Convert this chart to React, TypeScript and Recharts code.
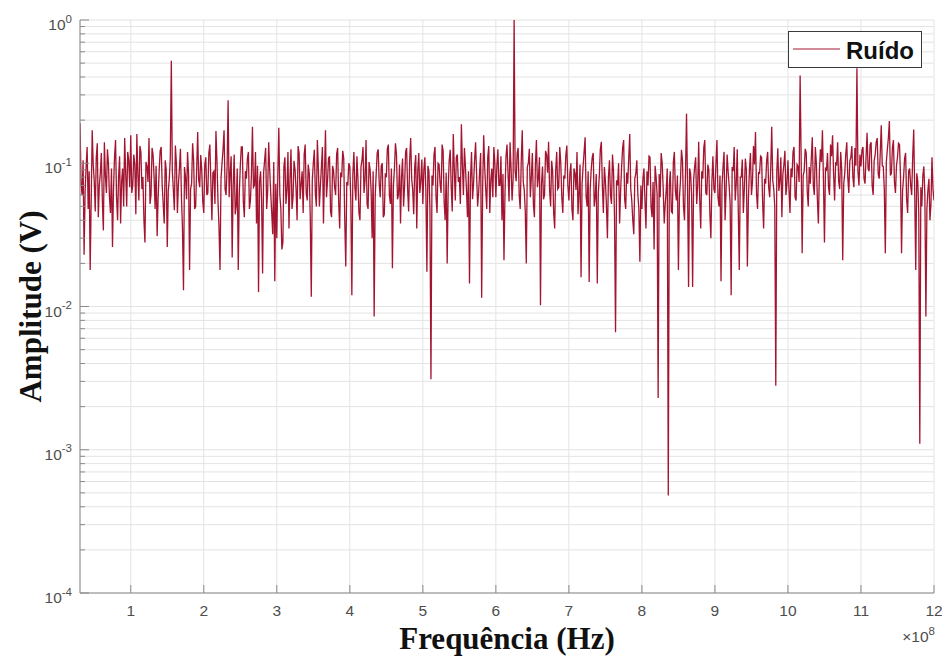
import React from 'react';
import {
  LineChart,
  Line,
  XAxis,
  YAxis,
  CartesianGrid,
  Legend,
} from 'recharts';

// Amplitudes in mV, one spectral bin every 1/72 x 10^8 Hz.
// band0 ends just before 1 x 10^8 Hz, bandN covers N .. N+1 x 10^8 Hz.
const band0 = [
  190, 72, 60, 105, 23, 64, 95, 130, 48, 88, 18, 55, 170, 98, 75, 46, 110, 138, 42, 70,
  85, 118, 55, 34, 140, 82, 62, 125, 100, 58, 45, 92, 26, 66, 110, 145, 58, 40, 80, 112,
  38, 75, 92, 50, 150, 86, 50, 120, 105, 68,
];
const band1 = [
  157, 62, 70, 115, 98, 44, 160, 85, 55, 132, 120, 66, 80, 40, 28, 102, 95, 74, 150, 52,
  60, 128, 115, 80, 48, 96, 31, 58, 88, 122, 130, 70, 52, 38, 105, 90, 26, 64, 78, 110,
  520, 88, 65, 47, 133, 100, 45, 72, 92, 126, 58, 35, 13, 94, 80, 56, 120, 84, 18, 66,
  72, 138, 105, 48, 50, 92, 165, 76, 68, 114, 90, 54,
];
const band2 = [
  45, 98, 110, 60, 62, 118, 135, 74, 40, 86, 88, 52, 168, 104, 55, 36, 18, 78, 100, 125,
  170, 66, 60, 95, 275, 58, 85, 112, 22, 70, 115, 44, 50, 92, 18, 61, 95, 130, 130, 54,
  42, 88, 78, 108, 120, 48, 55, 83, 180, 68, 70, 120, 38, 96, 12.6, 74, 88, 55, 17, 86,
  105, 128, 48, 64, 140, 90, 62, 45, 32, 102, 15, 72,
];
const band3 = [
  30, 82, 177, 60, 48, 25, 28, 95, 110, 52, 65, 120, 35, 78, 125, 48, 58, 104, 90, 66,
  40, 132, 118, 56, 72, 88, 45, 115, 135, 62, 55, 98, 85, 42, 11.7, 76, 100, 124, 62, 50,
  145, 92, 50, 70, 95, 130, 38, 84, 170, 58, 75, 108, 112, 46, 42, 96, 88, 68, 60, 116,
  128, 54, 35, 86, 80, 122, 108, 40, 19, 74, 70, 100,
];
const band4 = [
  95, 55, 12, 84, 120, 68, 55, 112, 78, 45, 40, 94, 105, 130, 62, 76, 145, 52, 48, 102,
  90, 64, 30, 88, 8.5, 58, 85, 118, 125, 72, 58, 96, 100, 42, 44, 85, 80, 126, 135, 60,
  52, 92, 18.5, 70, 92, 138, 115, 56, 60, 98, 38, 80, 108, 50, 70, 120, 128, 66, 46, 104,
  150, 78, 65, 44, 95, 114, 35, 88, 118, 62, 75, 106,
];
const band5 = [
  52, 90, 110, 64, 17.5, 96, 88, 48, 3.1, 82, 70, 115, 130, 58, 45, 100, 98, 72, 62, 135,
  122, 54, 40, 86, 20, 68, 105, 124, 68, 46, 160, 92, 55, 110, 115, 74, 80, 52, 187, 98,
  60, 128, 95, 66, 42, 88, 14.5, 78, 120, 56, 72, 104, 140, 84, 50, 62, 88, 118, 11.5, 70,
  157, 94, 65, 48, 110, 132, 45, 76, 92, 58, 130, 100,
];
const band6 = [
  58, 96, 125, 70, 70, 112, 40, 84, 21, 62, 112, 135, 85, 54, 140, 92, 55, 78, 1000, 88,
  75, 118, 128, 60, 48, 102, 170, 74, 65, 46, 20, 94, 100, 126, 58, 80, 118, 52, 42, 98,
  145, 68, 80, 110, 10.2, 72, 95, 56, 60, 122, 115, 86, 141, 64, 50, 104, 88, 45, 35, 90,
  120, 66, 68, 130, 100, 58, 45, 82, 78, 114, 133, 70,
];
const band7 = [
  55, 85, 100, 48, 40, 92, 85, 65, 120, 44, 62, 98, 16, 72, 95, 120, 152, 58, 50, 88,
  14.8, 66, 90, 110, 118, 50, 58, 84, 14.5, 62, 82, 125, 141, 70, 45, 94, 75, 52, 30, 80,
  105, 60, 52, 115, 88, 42, 6.6, 76, 70, 100, 38, 64, 95, 128, 145, 56, 48, 86, 72, 108,
  160, 66, 55, 40, 32, 78, 85, 105, 60, 48, 20.5, 70,
];
const band8 = [
  48, 78, 92, 55, 35, 88, 70, 112, 110, 50, 42, 74, 25, 96, 80, 60, 2.3, 84, 58, 118,
  100, 66, 38, 52, 65, 92, 0.48, 70, 88, 46, 45, 102, 120, 64, 55, 82, 18, 58, 75, 124,
  105, 50, 40, 86, 222, 68, 13.7, 92, 85, 60, 13.7, 76, 95, 110, 52, 70, 141, 56, 35, 88,
  78, 128, 145, 62, 60, 98, 90, 45, 30, 74, 112, 66,
];
const band9 = [
  62, 100, 145, 58, 50, 82, 15, 70, 95, 120, 40, 64, 115, 88, 70, 52, 12, 94, 88, 130,
  55, 72, 125, 48, 18, 80, 80, 106, 45, 66, 108, 90, 19, 56, 90, 118, 60, 74, 132, 98,
  165, 62, 48, 86, 85, 112, 110, 54, 35, 78, 72, 104, 120, 68, 58, 92, 180, 76, 66, 50,
  2.8, 88, 127, 64, 75, 110, 42, 84, 98, 122, 60, 72,
];
const band10 = [
  105, 66, 45, 92, 80, 120, 130, 58, 55, 98, 95, 74, 410, 110, 23.5, 82, 88, 126, 118, 64,
  50, 94, 72, 108, 152, 70, 60, 130, 100, 56, 38, 88, 125, 102, 170, 76, 28, 92, 90, 118,
  68, 60, 135, 112, 157, 84, 55, 100, 98, 140, 75, 66, 120, 90, 21, 72, 85, 116, 140, 80,
  62, 104, 110, 132, 80, 68, 128, 96, 460, 88, 70, 115,
];
const band11 = [
  95, 124, 130, 78, 72, 110, 163, 92, 88, 135, 140, 70, 60, 104, 115, 140, 150, 84, 78, 118,
  184, 96, 95, 66, 23.5, 102, 125, 150, 197, 82, 85, 128, 145, 74, 62, 96, 110, 138, 135, 80,
  23.5, 64, 80, 108, 118, 56, 45, 88, 92, 70, 60, 112, 172, 62, 18, 85, 75, 44, 1.1, 68,
  50, 82, 95, 60, 8.5, 48, 65, 78, 40, 52, 110, 66, 55,
];

const bands = [band0, band1, band2, band3, band4, band5, band6, band7, band8, band9, band10, band11];
const BIN = 1 / 72;

const xTicks = [1, 2, 3, 4, 5, 6, 7, 8, 9, 10, 11, 12];
const decades = [1e-4, 1e-3, 1e-2, 1e-1, 1];
const minorSteps = [2, 3, 4, 5, 6, 7, 8, 9];

const yTicks = [
  ...decades,
  ...decades.slice(0, -1).flatMap((d) => minorSteps.map((m) => m * d)),
].sort((a, b) => a - b);

const data = bands.flatMap((vals, b) => {
  const start = b === 0 ? 1 - vals.length * BIN : b;
  return vals.map((mv, i) => ({ f: start + i * BIN, amp: mv / 1000 }));
});

const lineColor = '#A2142F';
const axisColor = '#8a8a8a';
const gridColor = '#e3e3e3';
const tickText = '#4d4d4d';
const sans = '"Liberation Sans", Arial, sans-serif';
const serif = '"Liberation Serif", "Times New Roman", serif';

const isDecade = (v: number) => Math.abs(Math.log10(v) - Math.round(Math.log10(v))) < 1e-6;

const LeftTick = ({ x, y, payload }: any) => {
  const major = isDecade(payload.value);
  return (
    <g>
      <line x1={x} x2={x + (major ? 9 : 5)} y1={y} y2={y} stroke={axisColor} />
      {major && (
        <text x={x - 8} y={y + 10} textAnchor="end" fontSize={15.5} fill={tickText} fontFamily={sans}>
          10
          <tspan dy={-7.5} fontSize={11.5}>
            {Math.round(Math.log10(payload.value))}
          </tspan>
        </text>
      )}
    </g>
  );
};

const RightTick = ({ x, y, payload }: any) => {
  const major = isDecade(payload.value);
  return <line x1={x} x2={x - (major ? 9 : 5)} y1={y} y2={y} stroke={axisColor} />;
};

const BottomTick = ({ x, y, payload }: any) => (
  <g>
    <line x1={x} x2={x} y1={y} y2={y - 8} stroke={axisColor} />
    <text x={x} y={y + 23} textAnchor="middle" fontSize={15.5} fill={tickText} fontFamily={sans}>
      {payload.value}
    </text>
  </g>
);

const TopTick = ({ x, y }: any) => <line x1={x} x2={x} y1={y} y2={y + 8} stroke={axisColor} />;

const XTitle = ({ viewBox }: any) => (
  <g>
    <text
      x={viewBox.x + viewBox.width / 2}
      y={viewBox.y + 56}
      textAnchor="middle"
      fontSize={31}
      fontWeight={700}
      fontFamily={serif}
      fill="#111"
    >
      Frequência (Hz)
    </text>
    <text
      x={viewBox.x + viewBox.width + 1}
      y={viewBox.y + 49}
      textAnchor="end"
      fontSize={15.5}
      fill={tickText}
      fontFamily={sans}
    >
      ×10
      <tspan dy={-7.5} fontSize={11.5}>
        8
      </tspan>
    </text>
  </g>
);

const YTitle = ({ viewBox }: any) => {
  const cx = 41;
  const cy = viewBox.y + viewBox.height / 2;
  return (
    <text
      x={cx}
      y={cy}
      transform={`rotate(-90 ${cx} ${cy})`}
      textAnchor="middle"
      fontSize={31}
      fontWeight={700}
      fontFamily={serif}
      fill="#111"
    >
      Amplitude (V)
    </text>
  );
};

const NoiseLegend = ({ payload }: any) => {
  const item = payload && payload[0];
  return (
    <svg width={134} height={37}>
      <rect x={0.5} y={0.5} width={133} height={36} fill="#fff" stroke="#3a3a3a" />
      <line x1={5} x2={52} y1={18} y2={18} stroke={item ? item.color : lineColor} strokeWidth={1} />
      <text x={58} y={28} fontSize={24} fontWeight={700} fontFamily={sans} fill="#111">
        {item ? item.value : 'Ruído'}
      </text>
    </svg>
  );
};

export default function App() {
  return (
    <div style={{ position: 'absolute', left: 0, top: 0, width: 946, height: 657, background: '#fff' }}>
      <LineChart width={946} height={657} data={data} margin={{ top: 20, right: 12, bottom: 34, left: 0 }}>
        <CartesianGrid stroke={gridColor} strokeWidth={1} />
        <XAxis
          dataKey="f"
          type="number"
          domain={[0.305, 12]}
          ticks={xTicks}
          interval={0}
          allowDataOverflow
          height={30}
          tickSize={0}
          tickMargin={0}
          tick={<BottomTick />}
          tickLine={false}
          axisLine={{ stroke: axisColor }}
          label={(props: any) => <XTitle {...props} />}
        />
        <XAxis
          xAxisId="top"
          orientation="top"
          dataKey="f"
          type="number"
          domain={[0.305, 12]}
          ticks={xTicks}
          interval={0}
          allowDataOverflow
          height={0}
          tickSize={0}
          tickMargin={0}
          tick={<TopTick />}
          tickLine={false}
          axisLine={{ stroke: axisColor }}
        />
        <YAxis
          type="number"
          scale="log"
          domain={[1e-4, 1]}
          ticks={yTicks}
          interval={0}
          allowDataOverflow
          width={80}
          tickSize={0}
          tickMargin={0}
          tick={<LeftTick />}
          tickLine={false}
          axisLine={{ stroke: axisColor }}
          label={(props: any) => <YTitle {...props} />}
        />
        <YAxis
          yAxisId="right"
          orientation="right"
          type="number"
          scale="log"
          domain={[1e-4, 1]}
          ticks={yTicks}
          interval={0}
          allowDataOverflow
          width={0}
          tickSize={0}
          tickMargin={0}
          tick={<RightTick />}
          tickLine={false}
          axisLine={{ stroke: axisColor }}
        />
        <Legend
          layout="horizontal"
          verticalAlign="middle"
          align="center"
          content={<NoiseLegend />}
          wrapperStyle={{ left: 788, top: 31, width: 134, height: 37 }}
        />
        <Line
          type="linear"
          dataKey="amp"
          name="Ruído"
          stroke={lineColor}
          strokeWidth={1.3}
          dot={false}
          activeDot={false}
          isAnimationActive={false}
        />
      </LineChart>
    </div>
  );
}
